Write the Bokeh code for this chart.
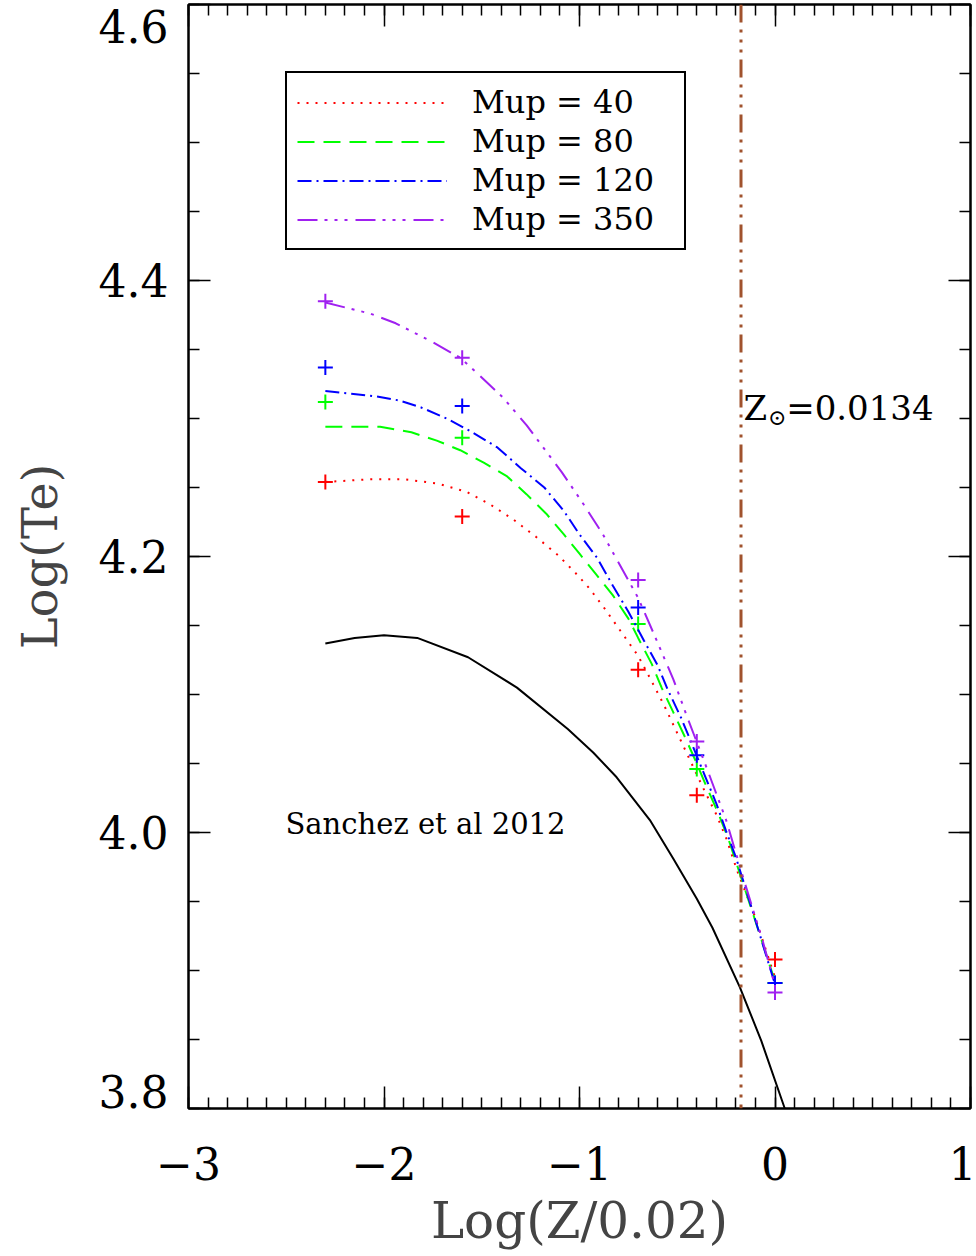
import numpy as np
from bokeh.plotting import figure
from bokeh.models import Range1d, LinearAxis, FixedTicker, Span, Label, Legend, LegendItem
from bokeh.embed import file_html
from bokeh.resources import INLINE

# ---------------- data ----------------
mup_labels = ["Mup = 40", "Mup = 80", "Mup = 120", "Mup = 350"]
mup_colors = ["#ff0000", "#00ff00", "#0000ff", "#a020f0"]
mup_dashes = ["2 7", "17 9", "14 5 2 5", "20 7 3 7 3 7 3 8"]

# model points (crosses)
x_models = [-2.30, -1.60, -0.70, -0.40, 0.0]
te_pts_40 = [4.254, 4.229, 4.118, 4.027, 3.908]
te_pts_80 = [4.312, 4.286, 4.151, 4.046, 3.891]
te_pts_120 = [4.337, 4.309, 4.163, 4.056, 3.891]
te_pts_350 = [4.385, 4.344, 4.183, 4.066, 3.884]

# fitted curves
fit_x_40 = [-2.30, -2.07, -1.90, -1.73, -1.58, -1.46, -1.34, -1.22, -1.11, -1.02, -0.95, -0.87,
            -0.79, -0.70, -0.64, -0.57, -0.51, -0.46, -0.37, -0.30, -0.25, -0.19, -0.11, 0.0]
fit_y_40 = [4.254, 4.256, 4.256, 4.253, 4.247, 4.238, 4.227, 4.214, 4.201, 4.188, 4.177, 4.162,
            4.146, 4.128, 4.112, 4.093, 4.075, 4.060, 4.033, 4.013, 3.996, 3.971, 3.942, 3.895]
fit_x_80 = [-2.30, -2.02, -1.86, -1.73, -1.61, -1.49, -1.37, -1.27, -1.17, -1.08, -1.00, -0.92, -0.83,
            -0.75, -0.70, -0.63, -0.58, -0.52, -0.46, -0.40, -0.35, -0.29, -0.24, -0.20, -0.11, 0.0]
fit_y_80 = [4.294, 4.294, 4.290, 4.284, 4.277, 4.268, 4.258, 4.245, 4.231, 4.216, 4.202, 4.188, 4.172,
            4.155, 4.141, 4.122, 4.105, 4.087, 4.069, 4.050, 4.033, 4.014, 3.996, 3.979, 3.940, 3.892]
fit_x_120 = [-2.30, -2.04, -1.92, -1.81, -1.68, -1.56, -1.42, -1.30, -1.18, -1.08, -1.00, -0.91, -0.83,
             -0.75, -0.67, -0.60, -0.55, -0.48, -0.41, -0.37, -0.30, -0.25, -0.20, -0.11, 0.0]
fit_y_120 = [4.320, 4.316, 4.313, 4.308, 4.300, 4.291, 4.279, 4.264, 4.250, 4.233, 4.216, 4.199, 4.179,
             4.160, 4.139, 4.121, 4.104, 4.083, 4.059, 4.045, 4.021, 4.001, 3.982, 3.941, 3.890]
fit_x_350 = [-2.30, -2.07, -1.94, -1.76, -1.61, -1.51, -1.39, -1.27, -1.18, -1.09, -0.98, -0.88,
             -0.81, -0.70, -0.62, -0.52, -0.45, -0.35, -0.25, -0.16, -0.06, 0.0]
fit_y_350 = [4.384, 4.376, 4.369, 4.356, 4.344, 4.331, 4.315, 4.295, 4.278, 4.261, 4.238, 4.216,
             4.198, 4.170, 4.144, 4.111, 4.084, 4.047, 4.009, 3.966, 3.920, 3.889]

# Sanchez et al 2012 relation
sanchez_x = [-2.30, -2.15, -2.00, -1.83, -1.57, -1.32, -1.06, -0.93, -0.81, -0.64, -0.52, -0.40,
             -0.32, -0.18, -0.07, 0.05]
sanchez_y = [4.137, 4.141, 4.143, 4.141, 4.127, 4.105, 4.075, 4.058, 4.040, 4.009, 3.981, 3.952,
             3.931, 3.888, 3.849, 3.800]

z_sun = 0.0134
z_ref = 0.02

x_ticks = [-3, -2, -1, 0, 1]
x_tick_labels = ["\u22123", "\u22122", "\u22121", "0", "1"]
y_ticks = [3.8, 4.0, 4.2, 4.4, 4.6]
y_tick_labels = ["3.8", "4.0", "4.2", "4.4", "4.6"]

FONT = "DejaVu Serif"
W, H = 976, 1256
B_LEFT, B_RIGHT, B_TOP, B_BOTTOM = 188, 6, 4, 148

# ---------------- figure ----------------
p = figure(width=W, height=H, output_backend="svg", toolbar_location=None,
           x_range=Range1d(-3, 1), y_range=Range1d(3.8, 4.6),
           min_border_left=B_LEFT, min_border_right=B_RIGHT, min_border_top=B_TOP,
           min_border_bottom=B_BOTTOM)
p.grid.visible = False
p.outline_line_color = "black"
p.outline_line_width = 2
p.background_fill_color = "white"
p.border_fill_color = "white"

x_minor = [round(v, 2) for v in np.arange(-3, 1.0001, 0.1)]
y_minor = [round(v, 3) for v in np.arange(3.8, 4.6001, 0.05)]


def style_axis(ax, ticks, minor, labels=None):
    ax.ticker = FixedTicker(ticks=ticks, minor_ticks=minor)
    ax.axis_line_color = "black"
    ax.axis_line_width = 2
    ax.major_tick_in = 22
    ax.major_tick_out = 0
    ax.minor_tick_in = 11
    ax.minor_tick_out = 0
    ax.major_tick_line_width = 1.5
    ax.minor_tick_line_width = 1.5
    ax.major_tick_line_color = "black"
    ax.minor_tick_line_color = "black"
    if labels is not None:
        ax.major_label_overrides = {t: l for t, l in zip(ticks, labels)}
        ax.major_label_text_font = FONT
        ax.major_label_text_font_size = "44px"
        ax.major_label_text_color = "black"
    else:
        ax.major_label_overrides = {t: "" for t in ticks}
        ax.major_label_text_font_size = "10px"
        ax.major_label_standoff = 0


xa = p.xaxis[0]
style_axis(xa, x_ticks, x_minor, x_tick_labels)
xa.major_label_standoff = 38
xa.axis_label = "Log(Z/0.02)"
xa.axis_label_text_font = FONT
xa.axis_label_text_font_size = "50px"
xa.axis_label_text_font_style = "normal"
xa.axis_label_standoff = 9

# left: tick marks only (nearest the frame)
ya = p.yaxis[0]
style_axis(ya, y_ticks, y_minor)

# left: labels axis; the end labels are nudged inside the frame's vertical extent
px_per_unit = (H - B_TOP - B_BOTTOM) / (y_ticks[-1] - y_ticks[0])
label_pos = list(y_ticks)
label_pos[0] = y_ticks[0] + 17 / px_per_unit
label_pos[-1] = y_ticks[-1] - 21.5 / px_per_unit
ylab = LinearAxis()
ylab.ticker = FixedTicker(ticks=label_pos, minor_ticks=[])
ylab.axis_line_color = None
ylab.major_tick_in = 0
ylab.major_tick_out = 0
ylab.minor_tick_in = 0
ylab.minor_tick_out = 0
ylab.major_label_overrides = {t: l for t, l in zip(label_pos, y_tick_labels)}
ylab.major_label_text_font = FONT
ylab.major_label_text_font_size = "44px"
ylab.major_label_text_color = "black"
ylab.major_label_standoff = 20
ylab.axis_label = "Log(Te)"
ylab.axis_label_text_font = FONT
ylab.axis_label_text_font_size = "48px"
ylab.axis_label_text_font_style = "normal"
ylab.axis_label_standoff = 28
p.add_layout(ylab, "left")

top_ax = LinearAxis()
style_axis(top_ax, x_ticks, x_minor)
p.add_layout(top_ax, "above")
right_ax = LinearAxis()
style_axis(right_ax, y_ticks, y_minor)
p.add_layout(right_ax, "right")

# ---------------- glyphs ----------------
p.line(sanchez_x, sanchez_y, line_color="black", line_width=2)

p.add_layout(Span(location=float(np.log10(z_sun / z_ref)), dimension="height",
                  line_color="#a0522d", line_width=3, line_dash="18 7 3 7 3 7 3 7"))

fits = [(fit_x_40, fit_y_40), (fit_x_80, fit_y_80), (fit_x_120, fit_y_120), (fit_x_350, fit_y_350)]
pts = [te_pts_40, te_pts_80, te_pts_120, te_pts_350]
items = []
for (fx, fy), py, lab, col, dash in zip(fits, pts, mup_labels, mup_colors, mup_dashes):
    r = p.line(fx, fy, line_color=col, line_width=2, line_dash=dash)
    p.scatter(x_models, py, marker="cross", size=15, line_color=col, line_width=2)
    items.append(LegendItem(label=lab, renderers=[r]))

legend = Legend(items=items, location=(97, 858))
legend.label_text_font = FONT
legend.label_text_font_size = "32px"
legend.label_text_color = "black"
legend.glyph_width = 150
legend.glyph_height = 37
legend.label_height = 37
legend.label_width = 202
legend.label_standoff = 25
legend.spacing = 1
legend.padding = 10
legend.margin = 0
legend.border_line_color = "black"
legend.border_line_alpha = 1.0
legend.border_line_width = 2.5
legend.background_fill_color = "white"
legend.background_fill_alpha = 1.0
p.add_layout(legend, "center")

# annotations
p.add_layout(Label(x=-2.504, y=4.0065, text="Sanchez et al 2012", text_font=FONT,
                   text_font_size="29px", text_baseline="middle", text_align="left", text_color="black"))
p.add_layout(Label(x=-0.161, y=4.3073, text="Z", text_font=FONT, text_font_size="34px",
                   text_baseline="alphabetic", text_align="left", text_color="black"))
p.add_layout(Label(x=-0.036, y=4.3008, text="\u2299", text_font=FONT, text_font_size="22px",
                   text_baseline="alphabetic", text_align="left", text_color="black"))
p.add_layout(Label(x=0.057, y=4.3073, text="=0.0134", text_font=FONT, text_font_size="34px",
                   text_baseline="alphabetic", text_align="left", text_color="black"))

open("out.html", "w").write(file_html(p, INLINE))
